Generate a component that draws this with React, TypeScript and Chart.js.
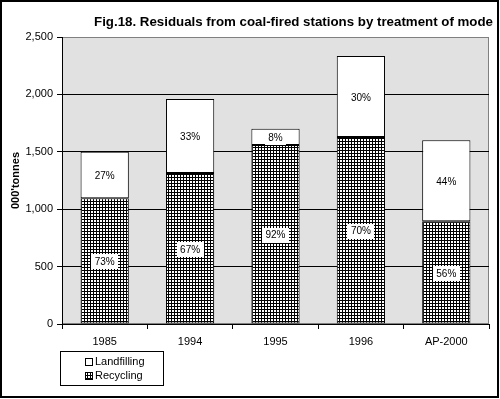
import React, { useEffect, useRef } from "react";
import { Chart, registerables } from "chart.js";

Chart.register(...registerables);

const categories = ["1985", "1994", "1995", "1996", "AP-2000"];
const recycling = [1095, 1315, 1560, 1630, 895];
const landfilling = [405, 645, 140, 705, 705];
const recyclingPct = ["73%", "67%", "92%", "70%", "56%"];
const landfillPct = ["27%", "33%", "8%", "30%", "44%"];
const titleText = "Fig.18. Residuals from coal-fired stations by treatment of mode";
const yTitle = "000'tonnes";
const legendLabels = ["Landfilling", "Recycling"];

const FONT = "Arial, 'Liberation Sans', sans-serif";

function makePattern(): CanvasPattern | string {
  const c = document.createElement("canvas");
  c.width = 3;
  c.height = 3;
  const g = c.getContext("2d");
  if (!g) return "#888";
  g.fillStyle = "#fff";
  g.fillRect(0, 0, 3, 3);
  g.fillStyle = "#000";
  g.fillRect(0, 0, 3, 1);
  g.fillRect(0, 0, 1, 3);
  const p = g.createPattern(c, "repeat");
  return p || "#888";
}

export default function App() {
  const ref = useRef<HTMLCanvasElement | null>(null);
  useEffect(() => {
    if (!ref.current) return;
    const pattern = makePattern();

    const framePlugin = {
      id: "frame",
      beforeDraw(chart: any) {
        const { ctx, chartArea: a } = chart;
        ctx.save();
        ctx.fillStyle = "#fff";
        ctx.fillRect(0, 0, chart.width, chart.height);
        ctx.fillStyle = "#e1e1e1";
        ctx.fillRect(a.left, a.top, a.right - a.left, a.bottom - a.top);
        ctx.strokeStyle = "#808080";
        ctx.lineWidth = 1;
        ctx.strokeRect(a.left + 0.5, a.top + 0.5, a.right - a.left - 1, a.bottom - a.top - 1);
        ctx.restore();
      },
      afterDatasetsDraw(chart: any) {
        const ctx = chart.ctx;
        ctx.save();
        ctx.font = `10px ${FONT}`;
        ctx.textAlign = "center";
        ctx.textBaseline = "middle";
        chart.data.datasets.forEach((ds: any, i: number) => {
          const meta = chart.getDatasetMeta(i);
          const texts = i === 0 ? recyclingPct : landfillPct;
          meta.data.forEach((el: any, j: number) => {
            const { x, y, base } = el.getProps(["x", "y", "base"], true);
            const cy = (y + base) / 2 + 1;
            const w = ctx.measureText(texts[j]).width + 7;
            ctx.fillStyle = "#fff";
            ctx.fillRect(Math.round(x - w / 2), Math.round(cy - 7.5), Math.round(w), 15);
            ctx.fillStyle = "#000";
            ctx.fillText(texts[j], x, cy + 0.5);
          });
        });
        ctx.restore();
      },
      afterDraw(chart: any) {
        const { ctx, chartArea: a } = chart;
        ctx.save();
        // outer frame
        ctx.strokeStyle = "#000";
        ctx.lineWidth = 2;
        ctx.strokeRect(1, 1, 497, 396);
        // title
        ctx.fillStyle = "#000";
        ctx.font = `bold 13.3px ${FONT}`;
        ctx.textAlign = "right";
        ctx.textBaseline = "middle";
        ctx.fillText(titleText, 493, 22);
        // y title
        ctx.save();
        ctx.translate(16, (a.top + a.bottom) / 2);
        ctx.rotate(-Math.PI / 2);
        ctx.textAlign = "center";
        ctx.font = `bold 11px ${FONT}`;
        ctx.fillText(yTitle, 0, 0);
        ctx.restore();
        // legend
        const lx = 60, ly = 351, lw = 103, lh = 34;
        ctx.fillStyle = "#fff";
        ctx.fillRect(lx, ly, lw, lh);
        ctx.strokeStyle = "#000";
        ctx.lineWidth = 1;
        ctx.strokeRect(lx + 0.5, ly + 0.5, lw, lh);
        ctx.font = `11px ${FONT}`;
        ctx.textAlign = "left";
        legendLabels.forEach((lab, k) => {
          const cy = 362 + k * 14;
          ctx.fillStyle = k === 0 ? "#fff" : (pattern as any);
          ctx.fillRect(85, cy - 4, 8, 8);
          ctx.strokeStyle = "#000";
          ctx.strokeRect(85.5, cy - 3.5, 7, 7);
          ctx.fillStyle = "#000";
          ctx.fillText(lab, 95, cy);
        });
        ctx.restore();
      },
    };

    const chart = new Chart(ref.current, {
      type: "bar",
      data: {
        labels: categories,
        datasets: [
          {
            label: legendLabels[1],
            data: recycling,
            backgroundColor: pattern as any,
            borderColor: "#000",
            borderWidth: 1,
            borderSkipped: false,
            categoryPercentage: 1,
            barPercentage: 0.565,
          },
          {
            label: legendLabels[0],
            data: landfilling,
            backgroundColor: "#fff",
            borderColor: "#000",
            borderWidth: 1,
            borderSkipped: false,
            categoryPercentage: 1,
            barPercentage: 0.565,
          },
        ],
      },
      options: {
        responsive: false,
        animation: false,
        layout: { padding: { left: 8, top: 37, right: 11, bottom: 0 } },
        plugins: { legend: { display: false }, tooltip: { enabled: false }, title: { display: false } },
        scales: {
          x: {
            stacked: true,
            afterFit: (s: any) => {
              s.height = 75;
            },
            grid: {
              offset: true,
              drawOnChartArea: false,
              drawTicks: true,
              tickLength: 5,
              color: "#000",
            },
            border: { display: true, color: "#000" },
            ticks: { color: "#000", font: { family: FONT, size: 11 }, padding: 6, maxRotation: 0 },
          },
          y: {
            stacked: true,
            min: 0,
            max: 2500,
            afterFit: (s: any) => {
              s.width = 54;
            },
            grid: {
              color: (c: any) => (c.tick && c.tick.value === 2500 ? "#808080" : "#000"),
              tickColor: "#000",
              tickLength: 5,
              drawTicks: true,
            },
            border: { display: true, color: "#000" },
            ticks: {
              stepSize: 500,
              color: "#000",
              padding: 4,
              font: { family: FONT, size: 11 },
              callback: (v: any) => Number(v).toLocaleString("en-US"),
            },
          },
        },
      },
      plugins: [framePlugin],
    });
    return () => chart.destroy();
  }, []);

  return (
    <div style={{ position: "fixed", left: 0, top: 0, width: 500, height: 399, background: "#fff" }}>
      <canvas ref={ref} width={500} height={399} style={{ display: "block" }} />
    </div>
  );
}
